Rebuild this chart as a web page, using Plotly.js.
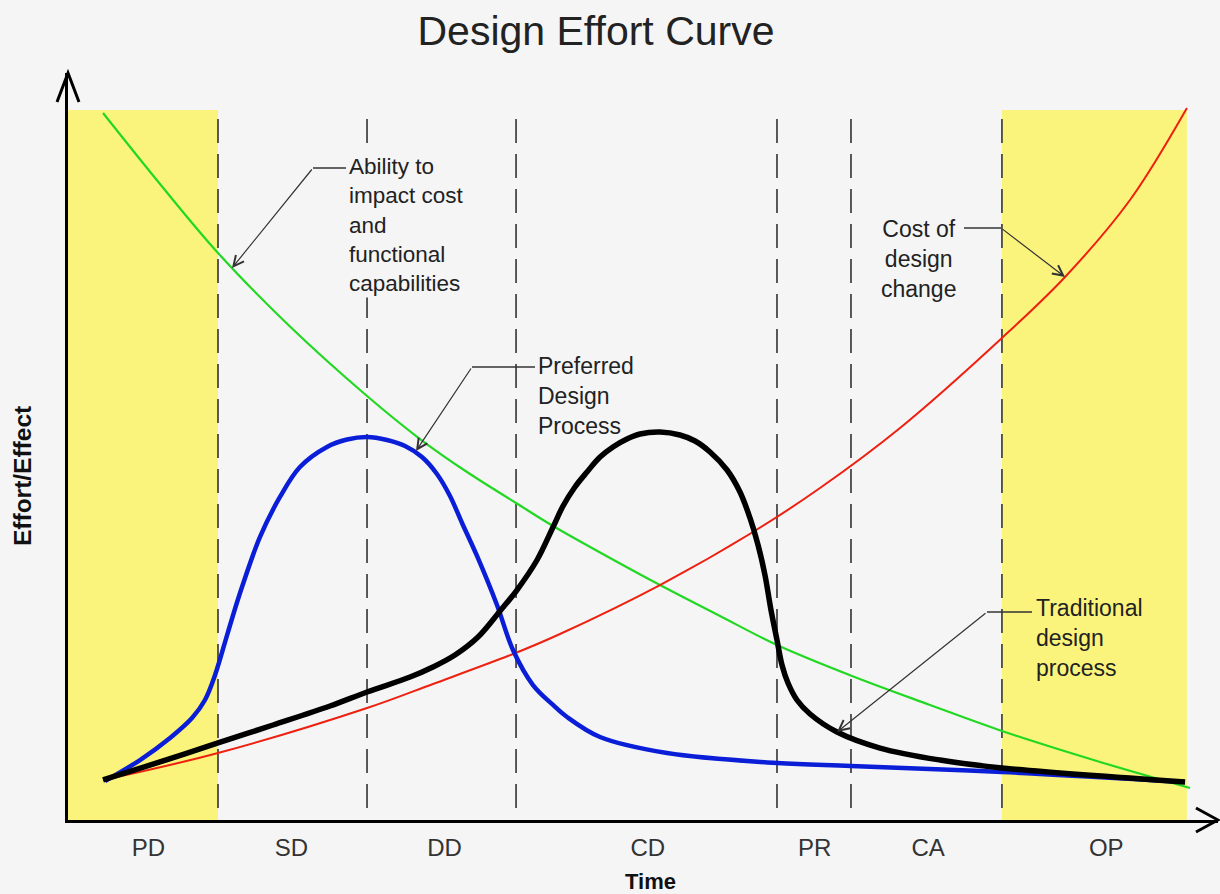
<!DOCTYPE html>
<html>
<head>
<meta charset="utf-8">
<script src="https://cdn.plot.ly/plotly-3.0.1.min.js"></script>
<style>html,body{margin:0;padding:0;background:#f5f5f5;}#chart{width:1220px;height:894px;}</style>
</head>
<body>
<div id="chart"></div>
<script>
// ---------- data (time units 0..100, effort units 0..100) ----------
const phaseNames   = ['PD', 'SD', 'DD', 'CD', 'PR', 'CA', 'OP'];
const phaseCenters = [6.9, 19.5, 33.0, 50.9, 65.6, 75.6, 91.3];
const phaseBounds  = [13.04, 26.17, 39.30, 62.29, 68.81, 82.11];
const timeEnd      = 98.4;

const abilityT = [2.91, 7.93, 13.04, 19.38, 26.17, 30.84, 34.98, 39.30, 42.56, 47.58, 51.98, 57.27, 62.29, 68.90, 75.77, 82.11, 90.75, 98.68];
const abilityV = [94.90, 85.37, 76.11, 66.24, 56.91, 51.14, 46.71, 42.55, 39.46, 35.17, 31.54, 27.38, 23.49, 19.33, 15.44, 11.95, 7.79, 4.30];

const costT = [2.91, 13.04, 26.17, 31.98, 39.03, 43.17, 51.98, 60.18, 66.08, 73.13, 82.11, 87.67, 93.39, 98.41];
const costV = [5.37, 8.99, 15.03, 18.26, 22.28, 24.97, 31.54, 38.66, 44.56, 52.62, 64.70, 72.89, 83.22, 95.57];

const preferredT = [3.08, 6.17, 8.81, 10.75, 11.89, 12.78, 13.92, 14.98, 16.74, 18.50, 20.26, 22.64, 24.41, 26.17, 27.93, 29.52, 31.01, 32.33, 33.48, 34.54, 35.86, 37.62, 39.03, 40.79, 42.56, 43.79, 46.70, 52.60, 62.29, 68.81, 82.11, 98.24];
const preferredV = [5.23, 8.05, 11.01, 13.69, 16.11, 19.46, 25.23, 30.47, 37.99, 43.36, 47.38, 50.07, 51.07, 51.41, 51.01, 50.20, 48.72, 46.44, 43.49, 39.87, 35.44, 28.86, 22.82, 18.12, 15.44, 13.83, 11.14, 8.99, 7.65, 7.25, 6.44, 5.10];

const traditionalT = [2.91, 7.93, 13.04, 17.89, 22.91, 26.17, 29.96, 31.98, 33.92, 35.95, 37.89, 39.38, 41.15, 42.56, 43.44, 44.49, 45.55, 46.70, 47.84, 49.07, 50.22, 51.98, 53.74, 55.07, 56.39, 57.89, 59.03, 59.91, 60.62, 61.23, 61.76, 62.29, 62.73, 63.26, 64.05, 65.20, 67.58, 71.37, 76.65, 82.11, 98.24];
const traditionalV = [5.37, 7.79, 10.34, 12.75, 15.30, 17.18, 19.19, 20.54, 22.15, 24.56, 28.05, 30.87, 34.90, 39.33, 42.15, 44.70, 46.71, 48.72, 50.07, 51.14, 51.81, 52.08, 51.68, 50.87, 49.40, 46.98, 44.03, 40.54, 36.91, 32.89, 28.19, 24.16, 20.81, 18.39, 16.11, 14.23, 11.81, 9.66, 8.05, 6.98, 5.10];

// ---------- geometry helpers (pixel -> data / paper) ----------
const plotL = 68, plotR = 1218, plotT = 73, plotB = 820;
function dx(px) { return (px - 70) / 11.35; }
function dy(py) { return (820 - py) / 7.45; }
function pX(px) { return (px - plotL) / (plotR - plotL); }
function pY(py) { return (plotB - py) / (plotB - plotT); }

const BG = '#f5f5f5';
const TXT = '#222222';
const FONT = 'Liberation Sans, Arial, sans-serif';

function line(t, v, color, width) {
  return {x: t, y: v, type: 'scatter', mode: 'lines',
          line: {color: color, width: width, shape: 'spline', smoothing: 1},
          hoverinfo: 'skip', showlegend: false};
}

const traces = [
  line(abilityT, abilityV, '#22d822', 2.2),
  line(costT, costV, '#ee2010', 2),
  line(preferredT, preferredV, '#0a1ed8', 4.5),
  line(traditionalT, traditionalV, '#000000', 5.5)
];

const shapes = [];
// yellow phases
shapes.push({type: 'rect', layer: 'below', xref: 'x', yref: 'y', x0: dx(plotL), x1: phaseBounds[0], y0: 0, y1: dy(110), fillcolor: '#fbf47c', line: {width: 0}});
shapes.push({type: 'rect', layer: 'below', xref: 'x', yref: 'y', x0: phaseBounds[5], x1: timeEnd, y0: 0, y1: dy(110), fillcolor: '#fbf47c', line: {width: 0}});
// dashed phase boundaries
phaseBounds.forEach(b => shapes.push({type: 'line', layer: 'below', xref: 'x', yref: 'y', x0: b, x1: b, y0: dy(808), y1: dy(108), line: {color: '#333', width: 1.6, dash: '24px,11px'}}));
// axis arrowheads (open chevrons)
shapes.push({type: 'path', xref: 'paper', yref: 'paper', path: `M ${pX(57)} ${pY(102)} L ${pX(68)} ${pY(73)} L ${pX(79)} ${pY(102)}`, line: {color: '#000', width: 3}});
shapes.push({type: 'path', xref: 'paper', yref: 'paper', path: `M ${pX(1196)} ${pY(808)} L ${pX(1218)} ${pY(820)} L ${pX(1196)} ${pY(832)}`, line: {color: '#000', width: 3}});
// annotation leader elbows
function seg(x0, y0, x1, y1) {
  shapes.push({type: 'line', xref: 'x', yref: 'y', x0: dx(x0), y0: dy(y0), x1: dx(x1), y1: dy(y1), line: {color: '#333', width: 1.3}});
}
seg(313, 168, 346, 168);
seg(472, 367, 535, 367);
seg(964, 228, 1001, 228);
seg(987, 612, 1032, 612);

function arrow(fromX, fromY, toX, toY) {
  return {x: dx(toX), y: dy(toY), ax: dx(fromX), ay: dy(fromY), axref: 'x', ayref: 'y', xref: 'x', yref: 'y',
          text: '', showarrow: true, arrowhead: 5, arrowsize: 1.7, arrowwidth: 1.2, arrowcolor: '#333', standoff: 0, startstandoff: 0};
}
function label(text, px, py, xanchor, align, extra) {
  return Object.assign({x: dx(px), y: dy(py), xref: 'x', yref: 'y', text: text, showarrow: false,
          xanchor: xanchor, yanchor: 'top', align: align, font: {family: FONT, size: 23, color: TXT}}, extra || {});
}

const annotations = [
  label('Ability to<br>impact cost<br>and<br>functional<br>capabilities', 347, 152, 'left', 'left', {bgcolor: BG, font: {family: FONT, size: 22.5, color: TXT}}),
  arrow(313, 168, 232, 268),
  label('Preferred<br>Design<br>Process', 536, 351, 'left', 'left'),
  arrow(472, 367, 416, 451),
  label('Cost of<br>design<br>change', 918, 214, 'center', 'center'),
  arrow(1001, 228, 1065, 277),
  label('Traditional<br>design<br>process', 1034, 593, 'left', 'left'),
  arrow(987, 612, 837, 732),
  {x: pX(650), y: pY(882), xref: 'paper', yref: 'paper', text: '<b>Time</b>', showarrow: false,
   xanchor: 'center', yanchor: 'middle', font: {family: FONT, size: 22, color: '#111'}},
  {x: pX(22), y: pY(476), xref: 'paper', yref: 'paper', text: '<b>Effort/Effect</b>', showarrow: false, textangle: -90,
   xanchor: 'center', yanchor: 'middle', font: {family: FONT, size: 24.5, color: '#111'}}
];

const layout = {
  width: 1220, height: 894,
  margin: {l: plotL, r: 1220 - plotR, t: plotT, b: 894 - plotB, pad: 0},
  paper_bgcolor: BG, plot_bgcolor: BG,
  title: {text: 'Design Effort Curve', x: 596 / 1220, xanchor: 'center', y: 1 - 31 / 894, yanchor: 'middle',
          font: {family: FONT, size: 41, color: TXT}},
  xaxis: {range: [dx(plotL), dx(plotR)], showgrid: false, zeroline: false, showline: true, linecolor: '#000', linewidth: 3,
          ticks: '', tickvals: phaseCenters, ticktext: phaseNames, ticklabelstandoff: 4,
          tickfont: {family: FONT, size: 24, color: '#333'}, fixedrange: true},
  yaxis: {range: [0, dy(plotT)], showgrid: false, zeroline: false, showline: true, linecolor: '#000', linewidth: 3,
          ticks: '', showticklabels: false, fixedrange: true},
  shapes: shapes,
  annotations: annotations,
  showlegend: false
};

Plotly.newPlot('chart', traces, layout, {displayModeBar: false, staticPlot: true});
</script>
</body>
</html>
